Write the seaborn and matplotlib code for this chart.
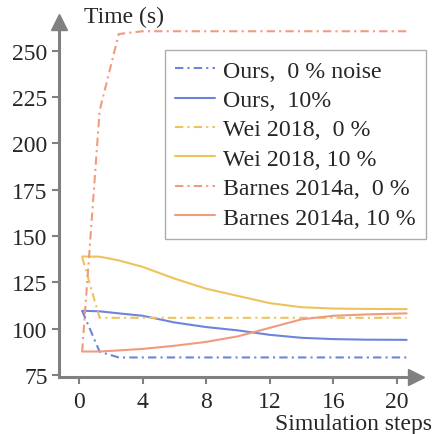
import matplotlib
matplotlib.use("Agg")
import matplotlib.pyplot as plt
import seaborn as sns
import pandas as pd

steps = [0.2, 1.3, 2.5, 4, 6, 8, 10, 12, 14, 16, 18, 20.6]

ours_0 = [109.6, 87.5, 84.4, 84.4, 84.4, 84.4, 84.4, 84.4, 84.4, 84.4, 84.4, 84.4]
ours_10 = [109.6, 109.3, 108.2, 106.9, 103.3, 100.8, 99.0, 96.6, 95.0, 94.3, 94.0, 93.9]
wei_0 = [138.5, 105.8, 105.8, 105.8, 105.8, 105.8, 105.8, 105.8, 105.8, 105.8, 105.8, 105.8]
wei_10 = [138.9, 138.8, 136.8, 133.3, 127.0, 121.5, 117.6, 113.7, 111.5, 110.8, 110.6, 110.5]
barnes_0 = [87.5, 217.6, 259.0, 260.5, 260.5, 260.5, 260.5, 260.5, 260.5, 260.5, 260.5, 260.5]
barnes_10 = [87.6, 87.6, 88.2, 89.0, 90.7, 92.8, 95.8, 100.4, 105.0, 106.9, 107.6, 108.2]

labels = ["Ours,  0 % noise", "Ours,  10%", "Wei 2018,  0 %",
          "Wei 2018, 10 %", "Barnes 2014a,  0 %", "Barnes 2014a, 10 %"]
series = [ours_0, ours_10, wei_0, wei_10, barnes_0, barnes_10]

xticks = [0, 4, 8, 12, 16, 20]
yticks = [75, 100, 125, 150, 175, 200, 225, 250]

BLUE = "#6d84de"
YELLOW = "#efc25c"
ORANGE = "#f19b7e"
colors = [BLUE, BLUE, YELLOW, YELLOW, ORANGE, ORANGE]
dashdot = (0, (4, 2, 1, 2))
styles = [dashdot, "-", dashdot, "-", dashdot, "-"]

sns.set_style("white")
serif = ["Liberation Serif", "DejaVu Serif"]
plt.rcParams["font.family"] = serif
plt.rcParams["font.serif"] = serif

fig = plt.figure(figsize=(4.32, 4.35), dpi=100)
ax = fig.add_axes([0.136, 0.130, 0.826, 0.818])

for lab, vals, col, ls in zip(labels, series, colors, styles):
    df = pd.DataFrame({"step": steps, "time": vals})
    sns.lineplot(data=df, x="step", y="time", ax=ax, color=col,
                 linestyle=ls, linewidth=1.5, label=lab)

ax.set_xlim(-1.27, 21.16)
ax.set_ylim(73.6, 265.7)
ax.set_xticks(xticks, [str(t) for t in xticks], fontfamily=serif, fontsize=17)
ax.set_yticks(yticks, [str(t) for t in yticks], fontfamily=serif, fontsize=17)
ax.set_xlabel("")
ax.set_ylabel("")

gray = "#808080"
for side in ["top", "right"]:
    ax.spines[side].set_visible(False)
for side in ["left", "bottom"]:
    ax.spines[side].set_color(gray)
    ax.spines[side].set_linewidth(2.2)
ax.tick_params(direction="out", length=5, width=1.5, color=gray,
               pad=3, left=True, bottom=True)
ax.tick_params(axis="x", pad=5)

# arrow heads on the axes
ax.plot([0], [1], marker="^", ms=11, color=gray, transform=ax.transAxes, clip_on=False)
ax.plot([1], [0], marker=">", ms=11, color=gray, transform=ax.transAxes, clip_on=False)

fig.text(84 / 432, 1 - 17 / 435, "Time (s)", fontsize=17, ha="left", va="center",
         family=serif)
fig.text(1.0, 1 - 425 / 435, "Simulation steps", fontsize=17, ha="right", va="center",
         family=serif)

leg = ax.legend(loc="upper left", bbox_to_anchor=(165 / 432, 1 - 51 / 435),
                bbox_transform=fig.transFigure, frameon=True,
                prop={"family": serif, "size": 17.2},
                fancybox=False, borderaxespad=0, handlelength=1.66,
                handletextpad=0.35, labelspacing=0.32, borderpad=0.42)
leg.get_frame().set_edgecolor("#999999")
leg.get_frame().set_linewidth(1.0)

fig.savefig("out.png", dpi=100)
